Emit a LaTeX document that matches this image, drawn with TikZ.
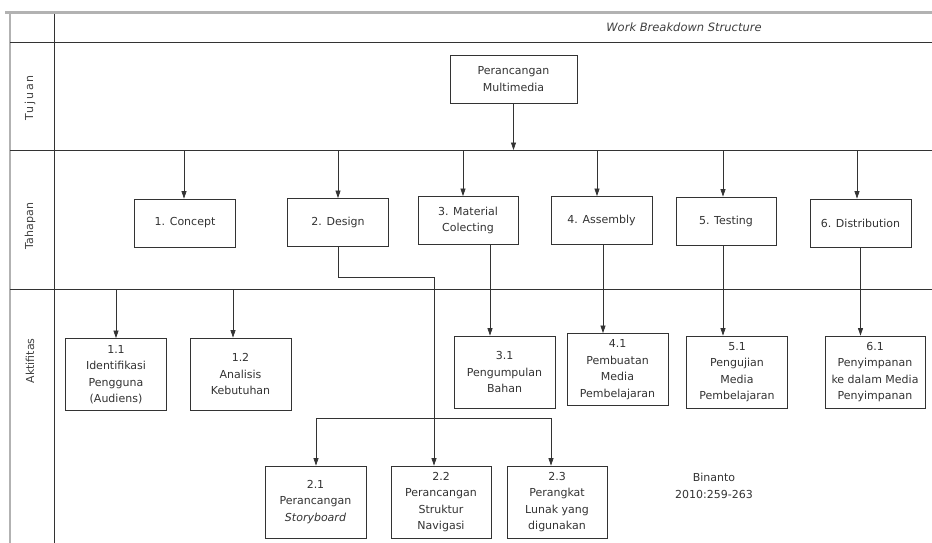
\documentclass[tikz,border=0pt]{standalone}
\usepackage{fontspec}
\setmainfont{DejaVu Sans}
\usetikzlibrary{arrows.meta}
\begin{document}
\begin{tikzpicture}[x=1pt,y=-1pt,
  font=\fontsize{11}{16.5}\selectfont,
  box/.style={draw=black!80, line width=0.8pt, rectangle, align=center, inner sep=1pt, text=black!80, minimum width=101pt},
  stagebox/.style={box, minimum height=48pt},
  actbox/.style={box, minimum height=72pt},
  arr/.style={draw=black!80, line width=0.7pt, -{Triangle[width=5pt,length=7.5pt]}},
  lane/.style={draw=black!80, line width=0.8pt},
  lanelabel/.style={rotate=90, text=black!75, font=\fontsize{11}{12}\selectfont}]
\useasboundingbox (0,0) rectangle (932,543);
\fill[white] (0,0) rectangle (932,543);

\draw[gray!60, line width=3pt] (5,13) -- (932,13);
\draw[gray!60, line width=1.5pt] (10,13) -- (10,543);
\draw[lane] (54,14) -- (54,543);
\draw[lane] (10,42) -- (932,42);
\draw[lane] (10,150) -- (932,150);
\draw[lane] (10,289) -- (932,289);

\node[text=black!75, font=\fontsize{11.5}{12}\selectfont\itshape] (title) at (684,27) {Work Breakdown Structure};
\node[lanelabel] (tujuan) at (30,98) {\addfontfeature{LetterSpace=18}Tujuan};
\node[lanelabel] (tahapan) at (30,226) {Tahapan};
\node[lanelabel] (aktifitas) at (30,361) {Aktifitas};

\node[box, minimum width=127pt, minimum height=48pt] (goal) at (513.5,79) {Perancangan\\Multimedia};

\node[stagebox] (concept) at (185,223) {1. Concept};
\node[stagebox] (design) at (338,222.5) {2. Design};
\node[stagebox, minimum width=100pt] (material) at (468,220.5) {3. Material\\Colecting};
\node[stagebox] (assembly) at (601.5,220.5) {4. Assembly};
\node[stagebox, minimum width=100pt] (testing) at (726,221) {5. Testing};
\node[stagebox] (distrib) at (860.5,223) {6. Distribution};

\node[actbox] (a11) at (116,374.5) {1.1\\Identifikasi\\Pengguna\\(Audiens)};
\node[actbox] (a12) at (240.5,374) {1.2\\Analisis\\Kebutuhan};
\node[actbox] (a31) at (504.5,372) {3.1\\Pengumpulan\\Bahan};
\node[actbox] (a41) at (617.5,369.5) {4.1\\Pembuatan\\Media\\Pembelajaran};
\node[actbox] (a51) at (737,372) {5.1\\Pengujian\\Media\\Pembelajaran};
\node[actbox, minimum width=100pt] (a61) at (875,372) {6.1\\Penyimpanan\\ke dalam Media\\Penyimpanan};
\node[actbox] (a21) at (315.5,502) {2.1\\Perancangan\\\textit{Storyboard}};
\node[actbox, minimum width=100pt] (a22) at (441,502) {2.2\\Perancangan\\Struktur\\Navigasi};
\node[actbox, minimum width=100pt] (a23) at (557,502) {2.3\\Perangkat\\Lunak yang\\digunakan};

\node[text=black!80, align=center] (source) at (714,486) {Binanto\\2010:259-263};

\coordinate (t1) at (184,150);
\coordinate (t2) at (338,150);
\coordinate (t3) at (463,150);
\coordinate (t4) at (597,150);
\coordinate (t5) at (723,150);
\coordinate (t6) at (857,150);
\coordinate (k1) at (116,289);
\coordinate (k2) at (233,289);
\coordinate (dj) at (434,277);
\coordinate (sl) at (316,418);
\coordinate (sr) at (551,418);

\draw[arr] (goal) -- (goal.south |- t1);
\draw[arr] (t1) -- (t1 |- concept.north);
\draw[arr] (t2) -- (t2 |- design.north);
\draw[arr] (t3) -- (t3 |- material.north);
\draw[arr] (t4) -- (t4 |- assembly.north);
\draw[arr] (t5) -- (t5 |- testing.north);
\draw[arr] (t6) -- (t6 |- distrib.north);

\draw[arr] (k1) -- (k1 |- a11.north);
\draw[arr] (k2) -- (k2 |- a12.north);
\draw[arr] ([xshift=22pt]material.south) -- ([xshift=22pt]material.south |- a31.north);
\draw[arr] ([xshift=1.5pt]assembly.south) -- ([xshift=1.5pt]assembly.south |- a41.north);
\draw[arr] ([xshift=-3pt]testing.south) -- ([xshift=-3pt]testing.south |- a51.north);
\draw[arr] (distrib.south) -- (distrib.south |- a61.north);

\draw[arr] (design.south) |- (dj) -- (dj |- a22.north);
\draw[lane, line width=0.7pt] (sl) -- (sr);
\draw[arr] (sl) -- (sl |- a21.north);
\draw[arr] (sr) -- (sr |- a23.north);
\end{tikzpicture}
\end{document}
